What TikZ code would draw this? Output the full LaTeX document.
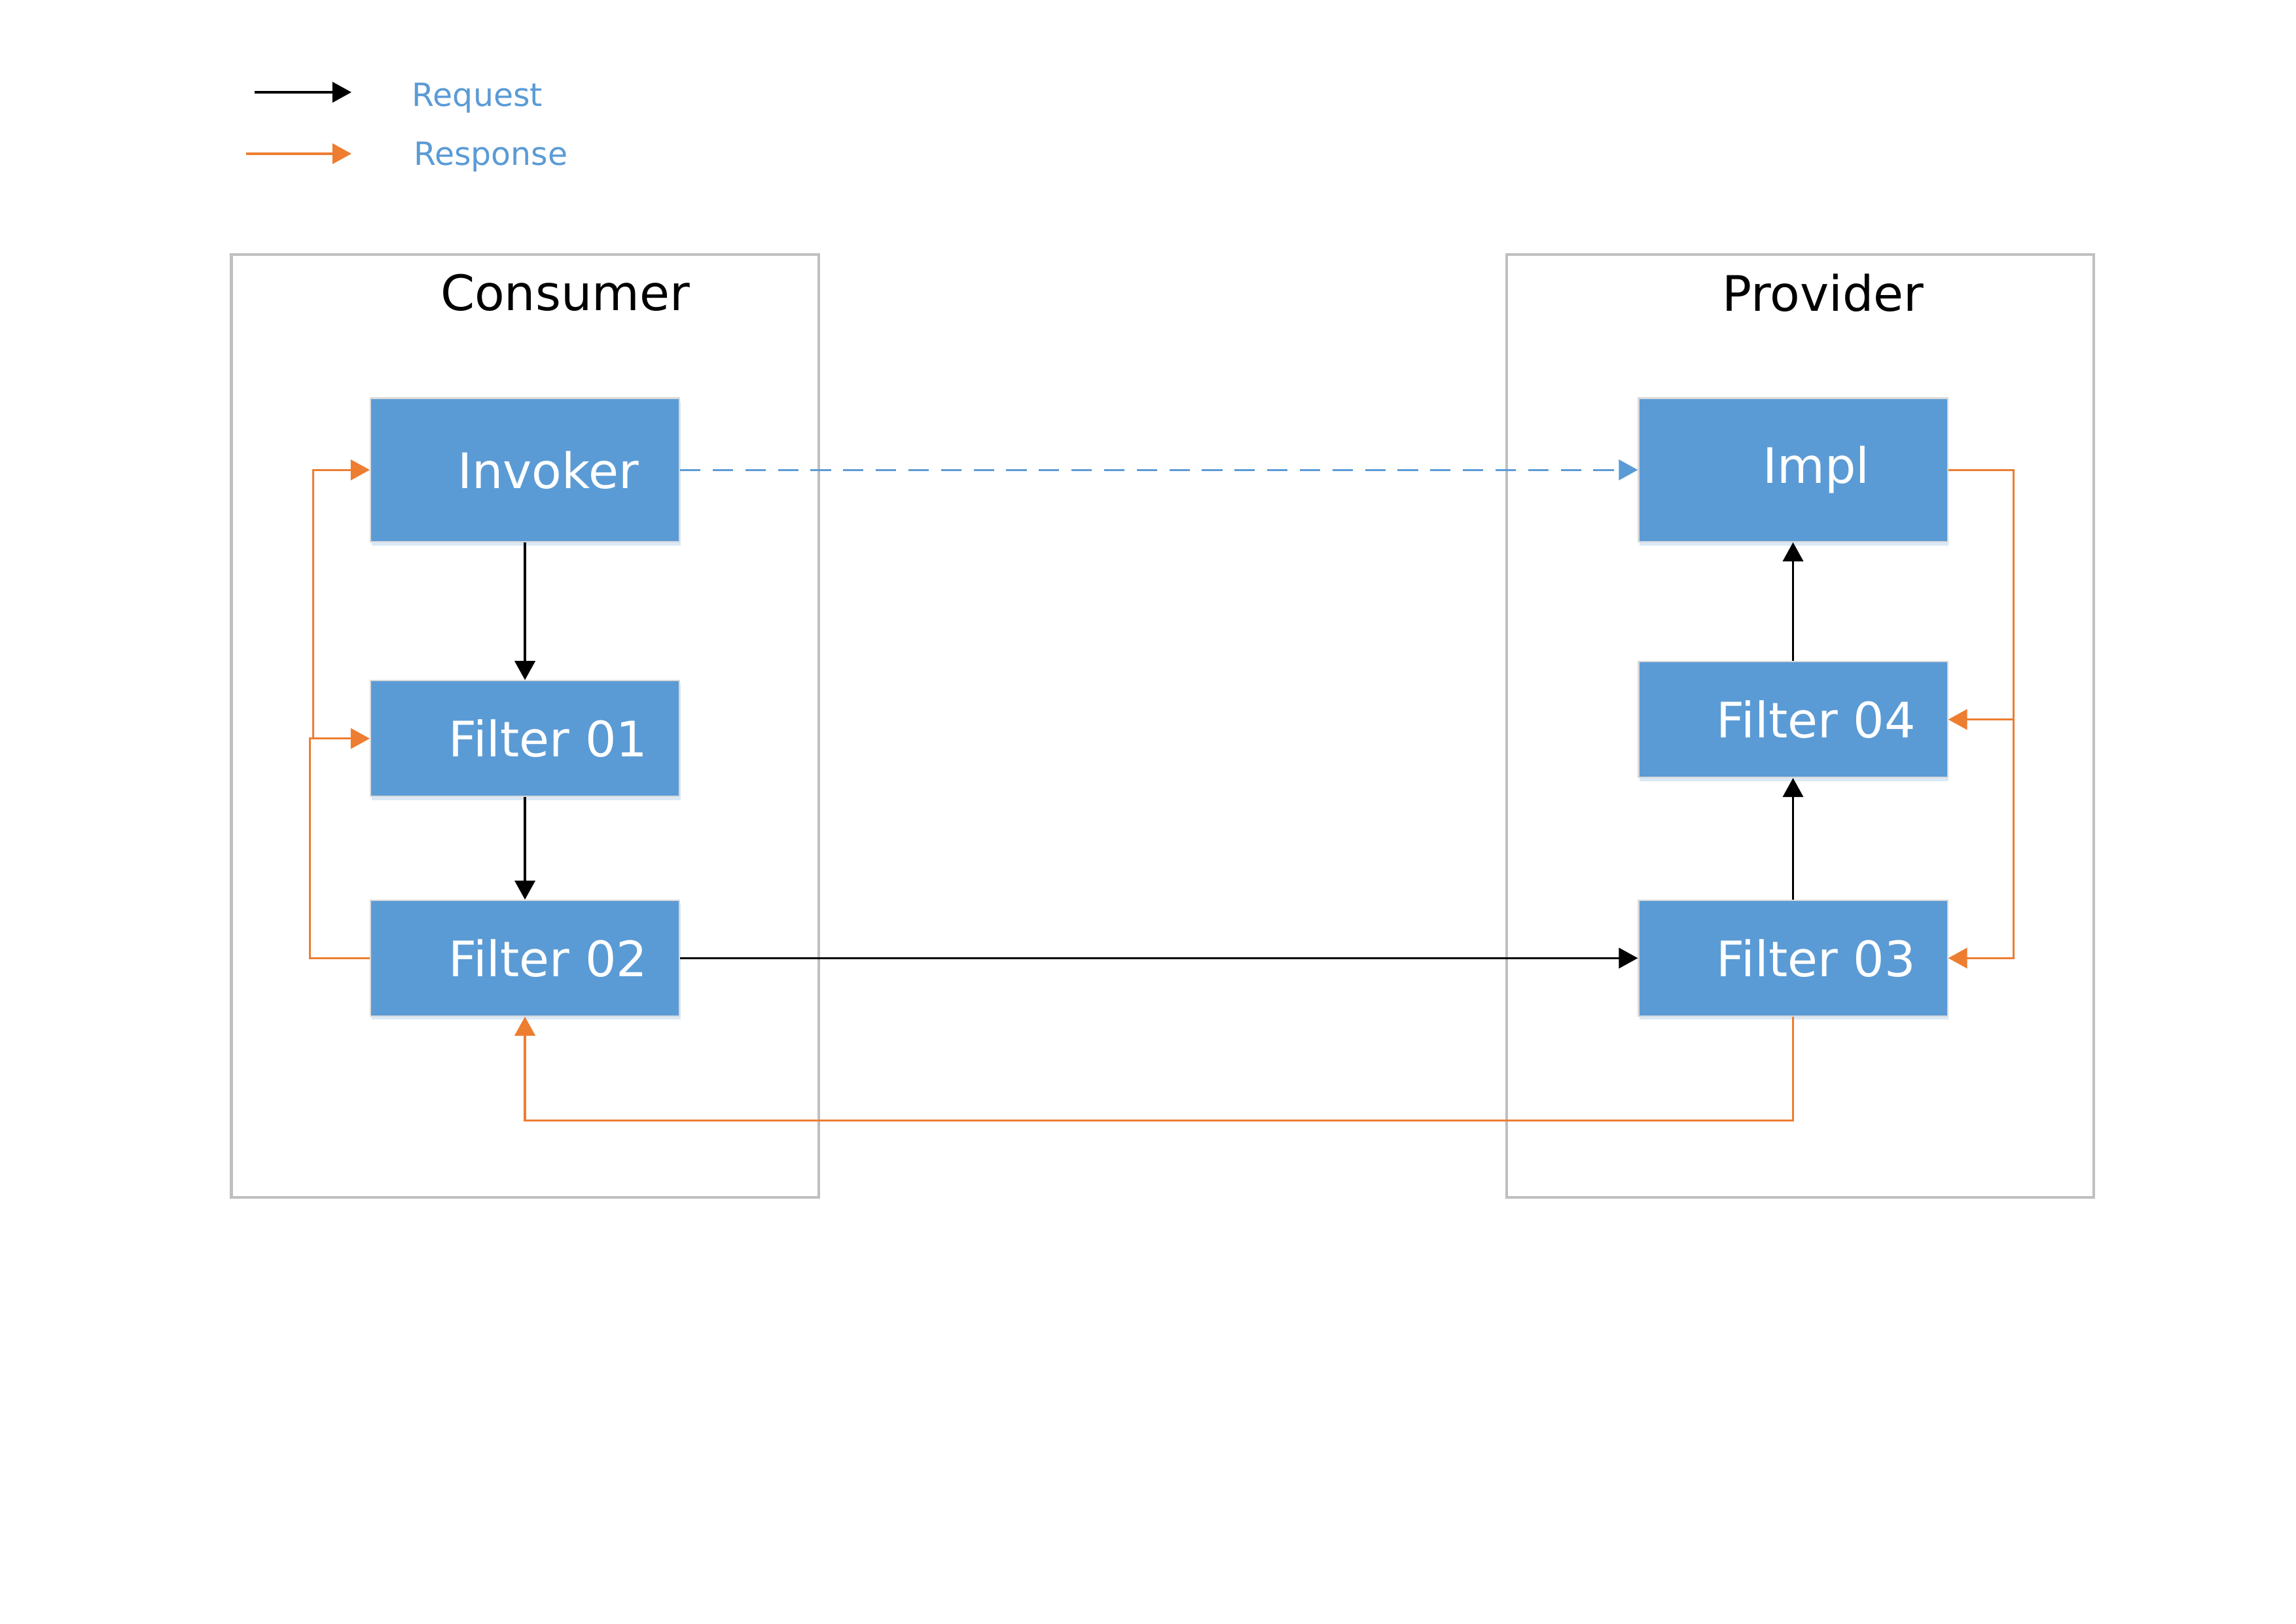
\documentclass[tikz,border=0pt]{standalone}
\usepackage{fontspec}
\setmainfont{DejaVu Sans}
\usepackage{tikz}
\usetikzlibrary{arrows.meta,shadows}
\definecolor{chain-blue}{HTML}{5B9BD5}
\definecolor{chain-orange}{HTML}{ED7D31}
\definecolor{chain-grey}{HTML}{BFBFBF}

\tikzset{
  box/.style={draw=black!15,line width=0.5pt,fill=chain-blue,text=white,
    minimum width=3.996cm,font=\fontsize{18pt}{21pt}\selectfont,
    execute at begin node={\hspace*{0.6cm}},
    drop shadow={shadow xshift=0.4pt,shadow yshift=-1.4pt,fill=chain-blue!22,opacity=1}},
  req/.style={line width=0.8pt,-{Triangle[length=7pt,width=7.5pt]}},
  resp/.style={chain-orange,line width=0.8pt,-{Triangle[length=7pt,width=7.5pt]}},
  container/.style={chain-grey,line width=1pt},
  title/.style={font=\fontsize{18pt}{21pt}\selectfont},
  legend/.style={chain-blue,anchor=west,font=\fontsize{11.8pt}{14pt}\selectfont}
}

\begin{document}
\begin{tikzpicture}[x=0.01894cm,y=-0.01894cm]
  \useasboundingbox (0,0) rectangle (1568,1109);

  % legend
  \coordinate (reqa) at (174,63);
  \coordinate (reqb) at (240,63);
  \coordinate (respa) at (168,105);
  \coordinate (respb) at (240,105);
  \draw[req] (reqa) -- (reqb);
  \draw[resp] (respa) -- (respb);
  \node[legend] (reqtext) at (275,67) {Request};
  \node[legend] (resptext) at (276,107) {Response};

  % consumer and provider
  \draw[container] (158,174) rectangle (559,818);
  \draw[container] (1029,174) rectangle (1430,818);
  \node[title] (consumer) at (386,200) {Consumer};
  \node[title] (provider) at (1245,200) {Provider};

  \node[box,minimum height=1.856cm] (inv) at (358.5,321) {Invoker};
  \node[box,minimum height=1.496cm] (f1) at (358.5,504.5) {Filter 01};
  \node[box,minimum height=1.496cm] (f2) at (358.5,654.5) {Filter 02};
  \node[box,minimum height=1.856cm] (impl) at (1224.5,321) {Impl};
  \node[box,minimum height=1.496cm] (f4) at (1224.5,491.5) {Filter 04};
  \node[box,minimum height=1.496cm] (f3) at (1224.5,654.5) {Filter 03};

  % request
  \draw[req] (inv) -- (f1);
  \draw[req] (f1) -- (f2);
  \draw[req] (f2) -- (f3);
  \draw[req] (f3) -- (f4);
  \draw[req] (f4) -- (impl);
  \draw[chain-blue,line width=0.8pt,dash pattern=on 7.5pt off 4.5pt,
    -{Triangle[length=7pt,width=7.5pt]}] (inv) -- (impl);

  % response
  \coordinate (rsplit) at (1375,491.5);
  \coordinate (lsplit) at (214,504.5);
  \draw[resp] (impl.east) -| (rsplit) -- (f4.east);
  \draw[resp] (rsplit) |- (f3.east);
  \draw[resp] (f3.south) -- ++(0,71) -| (f2.south);
  \draw[resp] (f2.west) -- ++(-41,0) |- (f1.west);
  \draw[resp] (lsplit) |- (inv.west);
\end{tikzpicture}
\end{document}
